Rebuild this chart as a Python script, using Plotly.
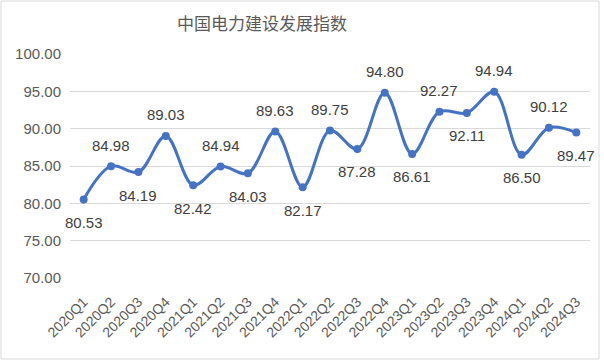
import plotly.graph_objects as go

categories = ["2020Q1", "2020Q2", "2020Q3", "2020Q4", "2021Q1", "2021Q2", "2021Q3", "2021Q4",
              "2022Q1", "2022Q2", "2022Q3", "2022Q4", "2023Q1", "2023Q2", "2023Q3", "2023Q4",
              "2024Q1", "2024Q2", "2024Q3"]
values = [80.53, 84.98, 84.19, 89.03, 82.42, 84.94, 84.03, 89.63,
          82.17, 89.75, 87.28, 94.80, 86.61, 92.27, 92.11, 94.94,
          86.50, 90.12, 89.47]
label_above = [False, True, False, True, False, True, False, True,
               False, True, False, True, False, True, False, True,
               False, True, False]
tick_values = [70, 75, 80, 85, 90, 95, 100]
title_text = "中国电力建设发展指数"

TEXT = "#595959"
FONT = "Liberation Sans, Arial, sans-serif"

fig = go.Figure()
fig.add_trace(go.Scatter(
    x=categories, y=values, mode="lines+markers",
    line=dict(color="#4472C4", width=3, shape="spline", smoothing=1.0),
    marker=dict(color="#4472C4", size=8),
    hoverinfo="skip", showlegend=False,
))

annotations = []
for c, v, up in zip(categories, values, label_above):
    annotations.append(dict(
        x=c, y=v, xref="x", yref="y", text=f"{v:.2f}", showarrow=False,
        yshift=21 if up else -23, font=dict(size=15, color="#404040", family=FONT),
    ))
annotations.append(dict(
    x=(262 - 70) / 520, y=(278 - 22) / 224, xref="paper", yref="paper",
    text=title_text, showarrow=False, xanchor="center", yanchor="middle",
    font=dict(size=17, color=TEXT, family="Noto Sans CJK SC, sans-serif"),
))

fig.update_layout(
    width=604, height=360,
    margin=dict(l=70, r=14, t=54, b=82),
    paper_bgcolor="white", plot_bgcolor="white",
    annotations=annotations,
    shapes=[dict(type="rect", xref="paper", yref="paper",
                 x0=(1 - 70) / 520, x1=(599 - 70) / 520,
                 y0=(278 - 359) / 224, y1=(278 - 1) / 224,
                 line=dict(color="#d9d9d9", width=1), fillcolor="rgba(0,0,0,0)", layer="above")],
    xaxis=dict(
        type="category", tickangle=-45, showgrid=False, showline=False, zeroline=False,
        tickfont=dict(size=14, color=TEXT, family=FONT), ticks="",
        ticklabelstandoff=12,
        range=[-0.5, len(categories) - 0.5],
    ),
    yaxis=dict(
        range=[70, 100], tickvals=tick_values, tickformat=".2f",
        showgrid=True, gridcolor="#d9d9d9", gridwidth=1, zeroline=False, showline=False,
        tickfont=dict(size=15, color=TEXT, family=FONT), ticks="", ticklen=0,
        ticklabelstandoff=8,
    ),
)

fig.write_html("out.html", config={"displayModeBar": False},
               post_script="document.body.style.margin='0';document.body.style.overflow='hidden';")
